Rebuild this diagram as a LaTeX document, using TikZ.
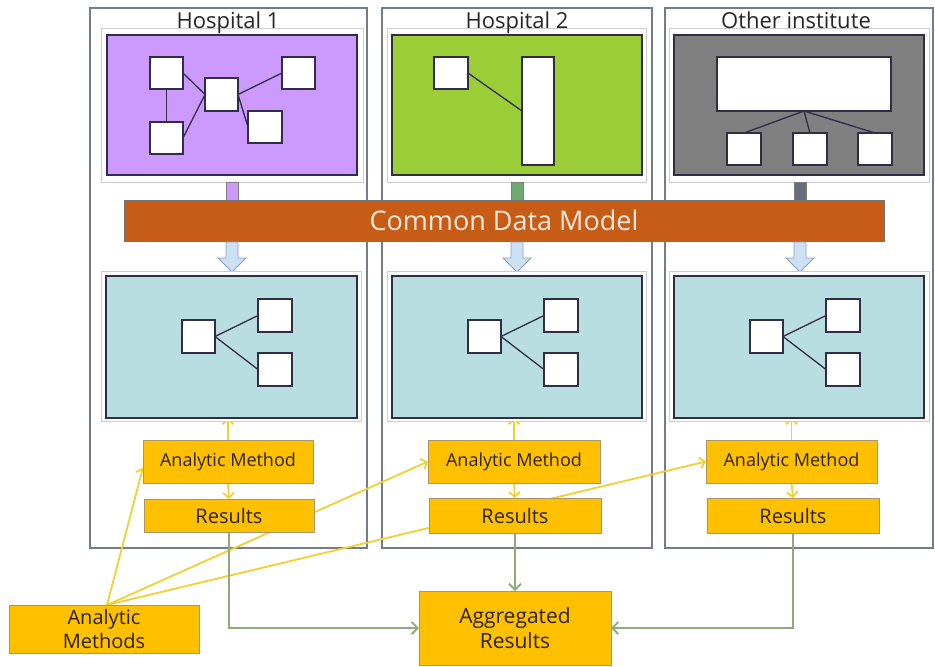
\documentclass[tikz,border=0pt]{standalone}
\usepackage{fontspec}
\setmainfont{Open Sans}
\usetikzlibrary{arrows.meta,calc}
\definecolor{purp}{RGB}{204,153,255}
\definecolor{grn}{RGB}{155,205,55}
\definecolor{gry}{RGB}{128,128,128}
\definecolor{lblue}{RGB}{184,222,226}
\definecolor{cdm}{RGB}{198,92,22}
\definecolor{cdmtext}{RGB}{252,232,218}
\definecolor{amber}{RGB}{255,192,0}
\definecolor{amberline}{RGB}{170,150,110}
\definecolor{ylink}{RGB}{240,208,50}
\definecolor{glink}{RGB}{140,172,122}
\definecolor{colborder}{RGB}{115,125,135}
\definecolor{framegray}{RGB}{205,205,205}
\definecolor{darkline}{RGB}{50,45,70}
\definecolor{txt}{RGB}{45,35,15}
\definecolor{arrfill}{RGB}{205,225,245}
\definecolor{arrdraw}{RGB}{140,160,190}
\definecolor{stubgreen}{RGB}{110,170,110}
\definecolor{stubgray}{RGB}{100,110,125}
\pgfdeclarelayer{back}\pgfdeclarelayer{links}
\pgfsetlayers{back,links,main}
\newcommand\rbox[7]{\node[#1, minimum width={((#4)-(#2))*1pt}, minimum height={((#5)-(#3))*1pt}] (#6) at ({((#2)+(#4))/2},{((#3)+(#5))/2}) {#7};}
\tikzset{
  every node/.style={inner sep=0pt, outer sep=0pt},
  colbox/.style={draw=colborder, line width=1.4pt, fill=white},
  framebox/.style={draw=framegray, line width=0.8pt, fill=white},
  panel/.style={draw=darkline, line width=1.3pt},
  wbox/.style={draw=darkline, fill=white, line width=1.3pt},
  link/.style={draw=darkline, line width=1.3pt},
  ybox/.style={fill=amber, draw=amberline, line width=0.8pt, text=txt, align=center},
  title/.style={font=\fontsize{22}{26}\selectfont, text=black!85, anchor=base},
  yarr/.style={draw=ylink, line width=1.8pt, -{Straight Barb[length=5pt,width=11pt]}},
  garr/.style={draw=glink, line width=1.9pt, -{Straight Barb[length=6pt,width=12pt]}},
  stub/.style={draw=gray, line width=0.6pt},
  barrow/.style={fill=arrfill, draw=arrdraw, line width=0.8pt},
}
\begin{document}
\begin{tikzpicture}[x=1pt,y=-1pt]
\useasboundingbox (0,0) rectangle (935,667);
% column boxes
\begin{pgfonlayer}{back}
\rbox{colbox}{90}{8}{367}{548}{col1}{}
\rbox{colbox}{382}{8}{652}{548}{col2}{}
\rbox{colbox}{665}{8}{933}{548}{col3}{}
\end{pgfonlayer}
% source panels
\rbox{framebox}{101}{28}{363}{182}{f1}{}
\rbox{panel,fill=purp}{107}{35}{357}{175}{s1}{}
\rbox{framebox}{387}{28}{646}{182}{f2}{}
\rbox{panel,fill=grn}{392}{35}{642}{175}{s2}{}
\rbox{framebox}{669}{28}{929}{182}{f3}{}
\rbox{panel,fill=gry}{674}{35}{924}{175}{s3}{}
% titles
\node[title] (t1) at (228,28) {Hospital 1};
\node[title] (t2) at (517,28) {Hospital 2};
\node[title] (t3) at (796,28) {Other institute};
% hospital 1 model
\rbox{wbox}{150}{57}{183}{89}{pa}{}
\rbox{wbox}{205}{78}{238}{111}{pb}{}
\rbox{wbox}{282}{57}{315}{89}{pc}{}
\rbox{wbox}{150}{122}{183}{154}{pd}{}
\rbox{wbox}{248}{111}{282}{143}{pe}{}
\draw[link] (pa.south) -- (pd.north);
\draw[link] (pa.east) -- (pb.west);
\draw[link] (pd.east) -- (pb.west);
\draw[link] (pb.east) -- (pc.west);
\draw[link] (pb.east) -- (pe.west);
% hospital 2 model
\rbox{wbox}{434}{57}{468}{89}{ga}{}
\rbox{wbox}{522}{57}{554}{165}{gb}{}
\draw[link] (ga.east) -- (gb.west);
% other institute model
\rbox{wbox}{717}{57}{891}{111}{oa}{}
\rbox{wbox}{727}{133}{761}{165}{ob1}{}
\rbox{wbox}{793}{133}{827}{165}{ob2}{}
\rbox{wbox}{858}{133}{892}{165}{ob3}{}
\draw[link] (oa.south) -- (ob1.north);
\draw[link] (oa.south) -- (ob2.north);
\draw[link] (oa.south) -- (ob3.north);
% stubs above CDM
\rbox{stub,fill=purp}{226}{182}{238}{202}{st1}{}
\rbox{stub,fill=stubgreen}{511}{182}{523}{202}{st2}{}
\rbox{stub,fill=stubgray}{794}{182}{806}{202}{st3}{}
% CDM bar
\rbox{draw=black!55,line width=0.8pt,fill=cdm,text=cdmtext,font=\fontsize{27}{31}\selectfont}{124}{200}{884}{241}{cdmbar}{Common Data Model}
% block arrows
\foreach \c in {232,517,800}{
  \draw[barrow] (\c-6,242) -- (\c+6,242) -- (\c+6,258) -- (\c+14,258) -- (\c,272) -- (\c-14,258) -- (\c-6,258) -- cycle;
}
% CDM panels
\rbox{framebox}{101}{271}{361}{421}{g1}{}
\rbox{panel,fill=lblue}{106}{276}{357}{418}{c1}{}
\rbox{framebox}{387}{271}{646}{421}{g2}{}
\rbox{panel,fill=lblue}{392}{276}{642}{418}{c2}{}
\rbox{framebox}{669}{271}{929}{421}{g3}{}
\rbox{panel,fill=lblue}{674}{276}{924}{418}{c3}{}
\foreach \o/\i in {0/1,286/2,568/3}{
  \rbox{wbox}{182+\o}{320}{215+\o}{353}{ca\i}{}
  \rbox{wbox}{258+\o}{299}{292+\o}{332}{cb\i}{}
  \rbox{wbox}{258+\o}{353}{292+\o}{386}{cc\i}{}
  \draw[link] (ca\i.east) -- (cb\i.west);
  \draw[link] (ca\i.east) -- (cc\i.west);
}
% analytic method / results boxes
\rbox{ybox,font=\fontsize{18}{21}\selectfont}{143}{440}{313}{483}{am1}{Analytic Method}
\rbox{ybox,font=\fontsize{20}{23}\selectfont}{144}{499}{314}{532}{r1}{Results}
\rbox{ybox,font=\fontsize{18}{21}\selectfont}{428}{440}{600}{483}{am2}{Analytic Method}
\rbox{ybox,font=\fontsize{20}{23}\selectfont}{429}{498}{601}{533}{r2}{Results}
\rbox{ybox,font=\fontsize{18}{21}\selectfont}{706}{440}{877}{483}{am3}{Analytic Method}
\rbox{ybox,font=\fontsize{20}{23}\selectfont}{707}{498}{879}{533}{r3}{Results}
\rbox{ybox,font=\fontsize{20}{24}\selectfont}{9}{605}{199}{653}{ams}{Analytic\\Methods}
\rbox{ybox,font=\fontsize{21}{25}\selectfont}{419}{591}{611}{665}{agg}{Aggregated\\Results}
% connectors
\begin{pgfonlayer}{links}
\foreach \i in {1,2,3}{
  \draw[yarr] (am\i.north) -- (am\i.north |- c\i.south);
  \draw[yarr] (am\i.south) -- (r\i.north);
}
\draw[yarr] ([xshift=3pt]ams.north) -- ([yshift=-6pt]am1.west);
\draw[yarr] ([xshift=3pt]ams.north) -- (am2.west);
\draw[yarr] ([xshift=3pt]ams.north) -- (am3.west);
\draw[garr] (r1.south) |- (agg.west);
\draw[garr] (r2.south) -- (agg.north);
\draw[garr] (r3.south) |- (agg.east);
\end{pgfonlayer}
\end{tikzpicture}
\end{document}
